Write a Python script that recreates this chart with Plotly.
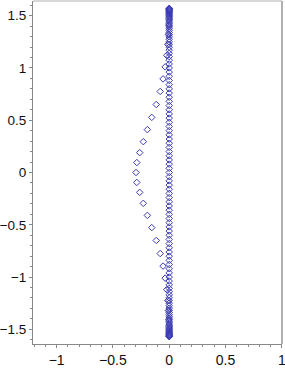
import plotly.graph_objects as go

# Column of points on x = 0 (positive half; mirrored below)
col_y_pos = [0.0, 0.04, 0.08, 0.12, 0.16, 0.2, 0.24, 0.28, 0.32, 0.36,
             0.4, 0.44, 0.48, 0.52, 0.56, 0.6, 0.64, 0.68, 0.72, 0.76,
             0.8, 0.84, 0.88, 0.92, 0.96, 1.0, 1.038, 1.074, 1.108, 1.14,
             1.17, 1.198, 1.225, 1.25, 1.274, 1.297, 1.318, 1.338, 1.357, 1.375,
             1.392, 1.408, 1.423, 1.437, 1.45, 1.462, 1.473, 1.484, 1.494, 1.503,
             1.512, 1.52, 1.528, 1.535, 1.541, 1.547, 1.553, 1.558, 1.563, 1.567,
             1.57]

# Arc of points to the left (positive half; mirrored below)
arc_x_pos = [-0.295, -0.288, -0.262, -0.23, -0.194, -0.155, -0.115, -0.08,
             -0.055, -0.036, -0.022, -0.013, -0.007, -0.003]
arc_y_pos = [0.0, 0.095, 0.19, 0.295, 0.41, 0.527, 0.65, 0.775,
             0.895, 1.01, 1.12, 1.225, 1.32, 1.41]

x_ticks = [-1, -0.5, 0, 0.5, 1]
x_tick_labels = ["−1", "−0.5", "0", "0.5", "1"]
y_ticks = [-1.5, -1, -0.5, 0, 0.5, 1, 1.5]
y_tick_labels = ["−1.5", "−1", "−0.5", "0", "0.5", "1", "1.5"]

col_y = [-v for v in col_y_pos[::-1] if v != 0] + col_y_pos
col_x = [0.0] * len(col_y)
arc_x = [x for x, y in zip(arc_x_pos[::-1], arc_y_pos[::-1]) if y != 0] + arc_x_pos
arc_y = [-y for y in arc_y_pos[::-1] if y != 0] + arc_y_pos

marker = dict(symbol="diamond-open", size=5, color="rgb(60,60,180)",
              line=dict(width=1, color="rgb(60,60,180)"))

fig = go.Figure()
fig.add_trace(go.Scatter(x=col_x, y=col_y, mode="markers", marker=marker,
                         showlegend=False, hoverinfo="skip", cliponaxis=False))
fig.add_trace(go.Scatter(x=arc_x, y=arc_y, mode="markers", marker=marker,
                         showlegend=False, hoverinfo="skip", cliponaxis=False))

axis_common = dict(showgrid=False, zeroline=False, showline=True, automargin=False,
                   linecolor="#888888", linewidth=1, ticks="outside",
                   ticklen=3, tickcolor="#888888", ticklabeloverflow="allow",
                   tickfont=dict(family="Liberation Sans, Arial", size=14, color="#111111"))

fig.update_xaxes(range=[-1.21, 1.002], tickvals=x_ticks, ticktext=x_tick_labels,
                 minor=dict(dtick=0.1, ticklen=2, tickcolor="#888888", ticks="outside"),
                 **axis_common)
fig.update_yaxes(range=[-1.64, 1.64], tickvals=y_ticks, ticktext=y_tick_labels,
                 minor=dict(dtick=0.1, ticklen=2, tickcolor="#888888", ticks="outside"),
                 **axis_common)
fig.update_yaxes(tickfont=dict(size=13.5))

fig.add_shape(type="line", xref="paper", yref="paper", x0=0, x1=1, y0=1, y1=1,
              line=dict(color="#b0b0b0", width=1))
fig.add_shape(type="line", xref="paper", yref="paper", x0=1, x1=1, y0=0, y1=1,
              line=dict(color="#b0b0b0", width=2))

fig.update_layout(width=285, height=382,
                  margin=dict(l=33, r=3, t=1, b=38),
                  paper_bgcolor="white", plot_bgcolor="white")

fig.write_html("out.html", config={"displayModeBar": False},
               post_script="document.body.style.margin='0';document.body.style.padding='0';")
